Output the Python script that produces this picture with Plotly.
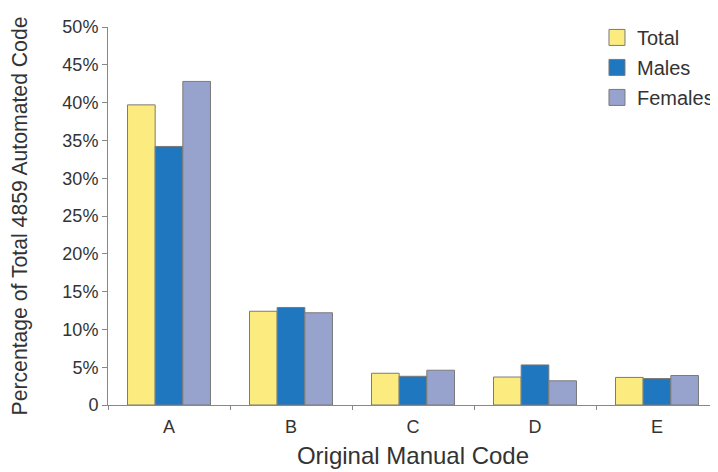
import plotly.graph_objects as go

categories = ["A", "B", "C", "D", "E"]
total = [39.7, 12.4, 4.2, 3.7, 3.65]
males = [34.2, 12.9, 3.8, 5.3, 3.5]
females = [42.8, 12.2, 4.6, 3.2, 3.9]
y_ticks = [0, 5, 10, 15, 20, 25, 30, 35, 40, 45, 50]
y_tick_labels = ["0"] + [f"{v}%" for v in y_ticks[1:]]

series = [("Total", total, "#FCEC80"), ("Males", males, "#1F78BF"), ("Females", females, "#97A3CC")]
edge = "#7a7a7a"

fig = go.Figure()
for name, vals, col in series:
    fig.add_trace(go.Bar(x=categories, y=vals, name=name, showlegend=False,
                         marker=dict(color=col, line=dict(color=edge, width=1))))
for name, vals, col in series:
    fig.add_trace(go.Scatter(x=[None], y=[None], mode="markers", name=name, legendgroup=name,
                             marker=dict(symbol="square", size=17, color=col,
                                         line=dict(color=edge, width=1))))

fig.update_layout(
    width=710, height=464,
    margin=dict(l=100, r=0, t=19, b=67, autoexpand=False),
    paper_bgcolor="white", plot_bgcolor="white",
    barmode="group", bargap=0.32, bargroupgap=0,
    font=dict(family="Liberation Sans, Arial, sans-serif", color="#333", size=17),
    legend=dict(x=0.8016, y=1.024, xanchor="left", yanchor="top", font=dict(size=20),
                bgcolor="rgba(0,0,0,0)", itemsizing="trace", tracegroupgap=1),
    xaxis=dict(title=dict(text="Original Manual Code", font=dict(size=24), standoff=11),
               showline=True, linecolor="#888", linewidth=1, ticks="outside",
               tickson="boundaries", ticklen=4, tickcolor="#888", ticklabelstandoff=5,
               tickfont=dict(size=18), range=[-0.5, 4.5], automargin=False),
    yaxis=dict(title=dict(text="Percentage of Total 4859 Automated Code", font=dict(size=21.2), standoff=33),
               range=[0, 50], tickvals=y_ticks, ticktext=y_tick_labels,
               showline=True, linecolor="#888", linewidth=1, ticks="outside",
               ticklen=5, tickcolor="#888", showgrid=False, zeroline=False,
               tickfont=dict(size=18), automargin=False),
)
fig.write_html("out.html")
